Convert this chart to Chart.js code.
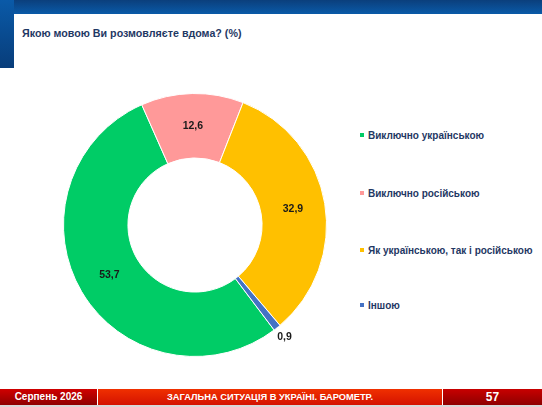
<!DOCTYPE html>
<html>
<head>
<meta charset="utf-8">
<script src="https://cdn.jsdelivr.net/npm/chart.js@4.4.1/dist/chart.umd.min.js"></script>
<style>
  body { margin: 0; width: 542px; height: 407px; position: relative; overflow: hidden; background: #fff; font-family: Arial, "Liberation Sans", sans-serif; }
  .topband { position: absolute; left: 0; top: 0; width: 542px; height: 14px; background: linear-gradient(#0b3f7c, #0a5aa8); }
  .leftband { position: absolute; left: 0; top: 0; width: 14px; height: 68px; background: linear-gradient(#0a5aa8, #083d7a); }
  .title { position: absolute; left: 22px; top: 27px; font-size: 10.7px; font-weight: bold; color: #1f3864; }
  #wrap { position: absolute; left: 40px; top: 70px; width: 310px; height: 310px; }
  #legend { position: absolute; left: 360px; top: 0; }
  .item { position: absolute; left: 0; white-space: nowrap; font-size: 10px; font-weight: bold; color: #1f3864; }
  .item span.box { display: inline-block; width: 4px; height: 4px; margin-right: 4px; vertical-align: 2px; }
  .footer { position: absolute; left: 0; top: 389px; width: 542px; height: 16px; color: #fff; font-size: 10px; font-weight: bold; }
  .footer div { position: absolute; top: 0; height: 16px; line-height: 16px; text-align: center; }
  .f1 { left: 0; width: 97px; background: linear-gradient(#d00000, #8e0000); }
  .f2 { left: 98px; width: 344px; background: linear-gradient(#f03000, #d41200); font-size: 9.3px; }
  .f3 { left: 443px; width: 99px; background: linear-gradient(#c80000, #8e0000); font-size: 12px; }
  .fline { position: absolute; left: 0; top: 405px; width: 542px; height: 2px; background: #d8d8d8; }
</style>
</head>
<body>
<div class="topband"></div>
<div class="leftband"></div>
<div class="title">Якою мовою Ви розмовляєте вдома? (%)</div>
<div id="wrap"><canvas id="chart1"></canvas></div>
<div id="legend"></div>
<div class="footer">
  <div class="f1">Серпень 2026</div>
  <div class="f2">ЗАГАЛЬНА СИТУАЦІЯ В УКРАЇНІ. БАРОМЕТР.</div>
  <div class="f3">57</div>
</div>
<div class="fline"></div>
<script>
const labels = ['Виключно українською', 'Виключно російською', 'Як українською, так і російською', 'Іншою'];
const values = [53.7, 12.6, 32.9, 0.9];
const colors = ['#00cc66', '#ff9999', '#ffc000', '#4472c4'];
const legendTops = [137, 195, 252, 307];

// legend
const legend = document.getElementById('legend');
labels.forEach((l, i) => {
  const d = document.createElement('div');
  d.className = 'item';
  d.style.top = (legendTops[i] - 7) + 'px';
  d.innerHTML = '<span class="box" style="background:' + colors[i] + '"></span>' + l;
  legend.appendChild(d);
});

// value labels, small slices placed outside
const valueLabels = {
  id: 'valueLabels',
  afterDatasetsDraw(chart) {
    const ctx = chart.ctx;
    const meta = chart.getDatasetMeta(0);
    ctx.save();
    ctx.font = 'bold 10.5px Arial, "Liberation Sans", sans-serif';
    ctx.fillStyle = '#1a1a1a';
    ctx.textAlign = 'center';
    ctx.textBaseline = 'middle';
    meta.data.forEach((arc, i) => {
      const p = arc.getProps(['startAngle', 'endAngle', 'innerRadius', 'outerRadius', 'x', 'y'], true);
      const mid = (p.startAngle + p.endAngle) / 2;
      let r = (p.innerRadius + p.outerRadius) / 2;
      if (values[i] < 3) r = p.outerRadius + 12;
      const txt = values[i].toFixed(1).replace('.', ',');
      ctx.fillText(txt, p.x + Math.cos(mid) * r, p.y + Math.sin(mid) * r);
    });
    ctx.restore();
  }
};

const ctx1 = document.getElementById('chart1').getContext('2d');
const chart1 = new Chart(ctx1, {
  type: 'doughnut',
  data: {
    labels: labels,
    datasets: [{
      data: values,
      backgroundColor: colors,
      borderColor: '#ffffff',
      borderWidth: 1
    }]
  },
  options: {
    responsive: true,
    maintainAspectRatio: false,
    animation: false,
    rotation: 143,
    cutout: '51%',
    layout: { padding: 23 },
    plugins: {
      legend: { display: false },
      tooltip: { enabled: false }
    }
  },
  plugins: [valueLabels]
});
</script>
</body>
</html>
